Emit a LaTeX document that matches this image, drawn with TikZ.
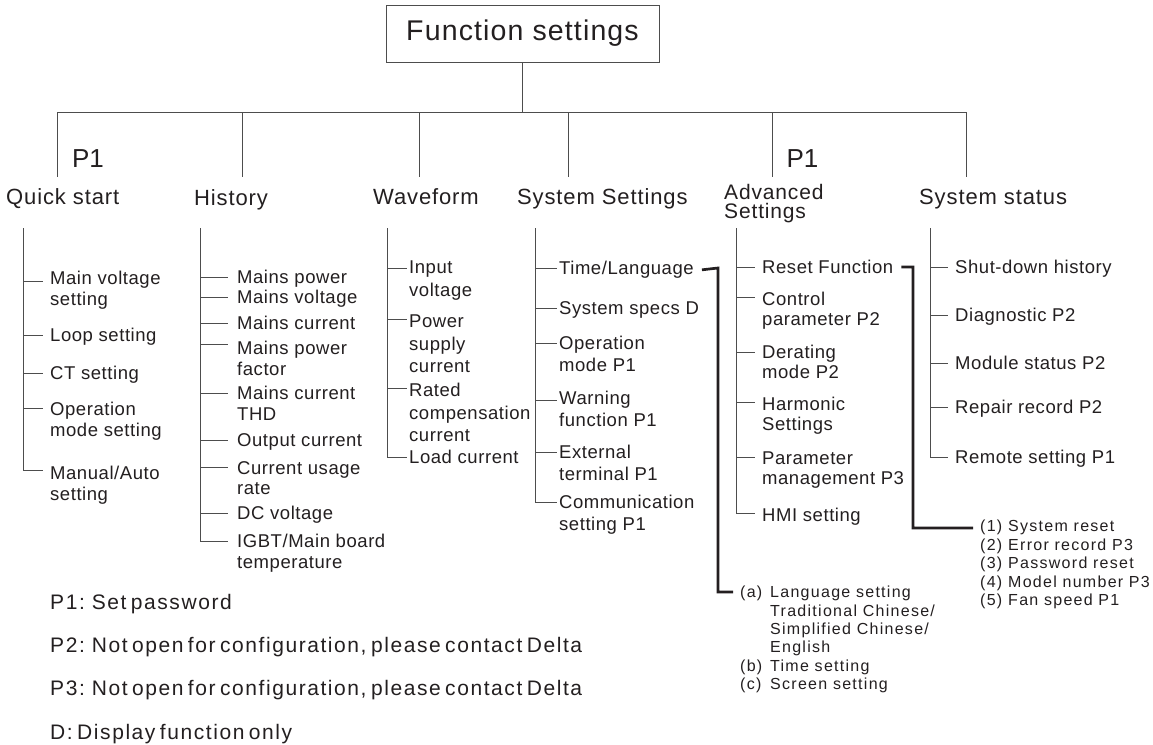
\documentclass[tikz,border=0pt]{standalone}
\usepackage{fontspec}
\setmainfont{Liberation Sans}
\newfontfamily\fTitle[LetterSpace=4]{Liberation Sans}
\newfontfamily\fHead[LetterSpace=4]{Liberation Sans}
\newfontfamily\fItem[LetterSpace=3]{Liberation Sans}
\newfontfamily\fSub[LetterSpace=8]{Liberation Sans}
\newfontfamily\fNote[LetterSpace=7.5,WordSpace=0.6]{Liberation Sans}
\definecolor{ink}{HTML}{231F20}
\definecolor{wirecol}{HTML}{4D4D4D}
\begin{document}
\begin{tikzpicture}[x=1pt,y=-1pt,
  every node/.style={text=ink, inner sep=0pt},
  titlebox/.style={draw=wirecol, line width=0.9pt, minimum width=273pt, minimum height=57pt, font=\fTitle\fontsize{28.5}{32}\selectfont},
  hdr/.style={anchor=base west, align=left, font=\fHead\fontsize{22}{17}\selectfont},
  plab/.style={font=\fontsize{26}{28}\selectfont},
  itm/.style={anchor=north west, align=left, font=\fItem\fontsize{18.5}{20.5}\selectfont},
  subl/.style={anchor=north west, align=left, font=\fSub\fontsize{16}{18.3}\selectfont},
  nt/.style={anchor=base west, font=\fNote\fontsize{21}{24}\selectfont},
  conn/.style={draw=wirecol, line width=0.9pt},
  bracket/.style={draw=ink, line width=2.7pt},
]
\fill[white] (0,0) rectangle (1153,744);
\useasboundingbox (0,0) rectangle (1153,744);

% title and bus
\node[titlebox] (title) at (522.5,33.5) {Function settings};
\coordinate (busL) at (57,112);
\coordinate (busR) at (966,112);
\draw[conn] (title.south) -- (title.south |- busL);
\draw[conn] (busL) -- (busR);
\foreach \x in {57,242,419,568,772,966} \draw[conn] (\x,112) -- (\x,177);

\node[plab] (p1a) at (88,158.5) {P1};
\node[plab] (p1b) at (802.5,158.5) {P1};

% column headers
\node[hdr] (hqs) at (6,204) {Quick start};
\node[hdr] (hhi) at (194,205.5) {History};
\node[hdr] (hwf) at (373,204) {Waveform};
\node[hdr] (hss) at (517,204) {System Settings};
\node[hdr, anchor=north west, font=\fHead\fontsize{21}{19.5}\selectfont] (had) at (724,184) {Advanced\\Settings};
\node[hdr] (hst) at (919,204) {System status};

% Quick start
\node[itm] (qs1) at (50,271) {Main voltage\\setting};
\node[itm] (qs2) at (50,328) {Loop setting};
\node[itm] (qs3) at (50,366) {CT setting};
\node[itm] (qs4) at (50,402) {Operation\\mode setting};
\node[itm] (qs5) at (50,466) {Manual/Auto\\setting};
\draw[conn] (23,228) -- (23,470) -- (43,470);
\foreach \y in {281,335,373,408} \draw[conn] (23,\y) -- (43,\y);

% History
\node[itm] (hi1) at (237,270) {Mains power};
\node[itm] (hi2) at (237,290) {Mains voltage};
\node[itm] (hi3) at (237,316) {Mains current};
\node[itm] (hi4) at (237,341) {Mains power\\factor};
\node[itm] (hi5) at (237,386) {Mains current\\THD};
\node[itm] (hi6) at (237,433) {Output current};
\node[itm] (hi7) at (237,461) {Current usage\\rate};
\node[itm] (hi8) at (237,506) {DC voltage};
\node[itm] (hi9) at (237,534) {IGBT/Main board\\temperature};
\draw[conn] (200,228) -- (200,541) -- (228,541);
\foreach \y in {277,297,323,344,393,440,467,513} \draw[conn] (200,\y) -- (228,\y);

% Waveform
\begin{scope}[itm/.append style={font=\fItem\fontsize{18.5}{22.5}\selectfont}]
\node[itm] (wf1) at (409,261) {Input\\voltage};
\node[itm] (wf2) at (409,315) {Power\\supply\\current};
\node[itm] (wf3) at (409,383) {Rated\\compensation\\current};
\node[itm] (wf4) at (409,450) {Load current};
\end{scope}
\draw[conn] (387,228) -- (387,457) -- (407,457);
\foreach \y in {268,319,388} \draw[conn] (387,\y) -- (407,\y);

% System Settings
\begin{scope}[itm/.append style={font=\fItem\fontsize{18.5}{22}\selectfont}]
\node[itm] (ss1) at (559,261) {Time/Language};
\node[itm] (ss2) at (559,301) {System specs D};
\node[itm] (ss3) at (559,336) {Operation\\mode P1};
\node[itm] (ss4) at (559,391) {Warning\\function P1};
\node[itm] (ss5) at (559,445) {External\\terminal P1};
\node[itm] (ss6) at (559,495) {Communication\\setting P1};
\end{scope}
\draw[conn] (535,228) -- (535,502) -- (557,502);
\foreach \y in {268,308,343,400,452} \draw[conn] (535,\y) -- (557,\y);

% Advanced Settings
\begin{scope}[itm/.append style={font=\fItem\fontsize{18.5}{19.5}\selectfont}]
\node[itm] (ad1) at (762,260) {Reset Function};
\node[itm] (ad2) at (762,292) {Control\\parameter P2};
\node[itm] (ad3) at (762,345) {Derating\\mode P2};
\node[itm] (ad4) at (762,397) {Harmonic\\Settings};
\node[itm] (ad5) at (762,452) {Parameter\\management P3};
\node[itm] (ad6) at (762,508) {HMI setting};
\end{scope}
\draw[conn] (736,228) -- (736,513) -- (755,513);
\foreach \y in {267,297,352,402,457} \draw[conn] (736,\y) -- (755,\y);

% System status
\node[itm] (st1) at (955,260) {Shut-down history};
\node[itm] (st2) at (955,308) {Diagnostic P2};
\node[itm] (st3) at (955,356) {Module status P2};
\node[itm] (st4) at (955,400) {Repair record P2};
\node[itm] (st5) at (955,450) {Remote setting P1};
\draw[conn] (930,228) -- (930,457) -- (948,457);
\foreach \y in {267,315,363,407} \draw[conn] (930,\y) -- (948,\y);

% sub lists
\node[subl] (lang) at (740,586) {\makebox[30pt][l]{(a)}Language setting\\
\hspace*{30pt}Traditional Chinese/\\
\hspace*{30pt}Simplified Chinese/\\
\hspace*{30pt}English\\
\makebox[30pt][l]{(b)}Time setting\\
\makebox[30pt][l]{(c)}Screen setting};
\node[subl, font=\fSub\fontsize{16}{18.5}\selectfont] (rst) at (980,520) {\makebox[28pt][l]{(1)}System reset\\
\makebox[28pt][l]{(2)}Error record P3\\
\makebox[28pt][l]{(3)}Password reset\\
\makebox[28pt][l]{(4)}Model number P3\\
\makebox[28pt][l]{(5)}Fan speed P1};

\draw[bracket] ([xshift=8pt]ss1.east) -- (718,268) -- (718,592) -- (733,592);
\draw[bracket] ([xshift=8pt]ad1.east) -- (913,267) -- (913,528) -- (973,528);

% notes
\node[nt] (n1) at (50,609.5) {P1: Set password};
\node[nt] (n2) at (50,652.5) {P2: Not open for configuration, please contact Delta};
\node[nt] (n3) at (50,695.5) {P3: Not open for configuration, please contact Delta};
\node[nt] (n4) at (50,739) {D: Display function only};
\end{tikzpicture}
\end{document}
